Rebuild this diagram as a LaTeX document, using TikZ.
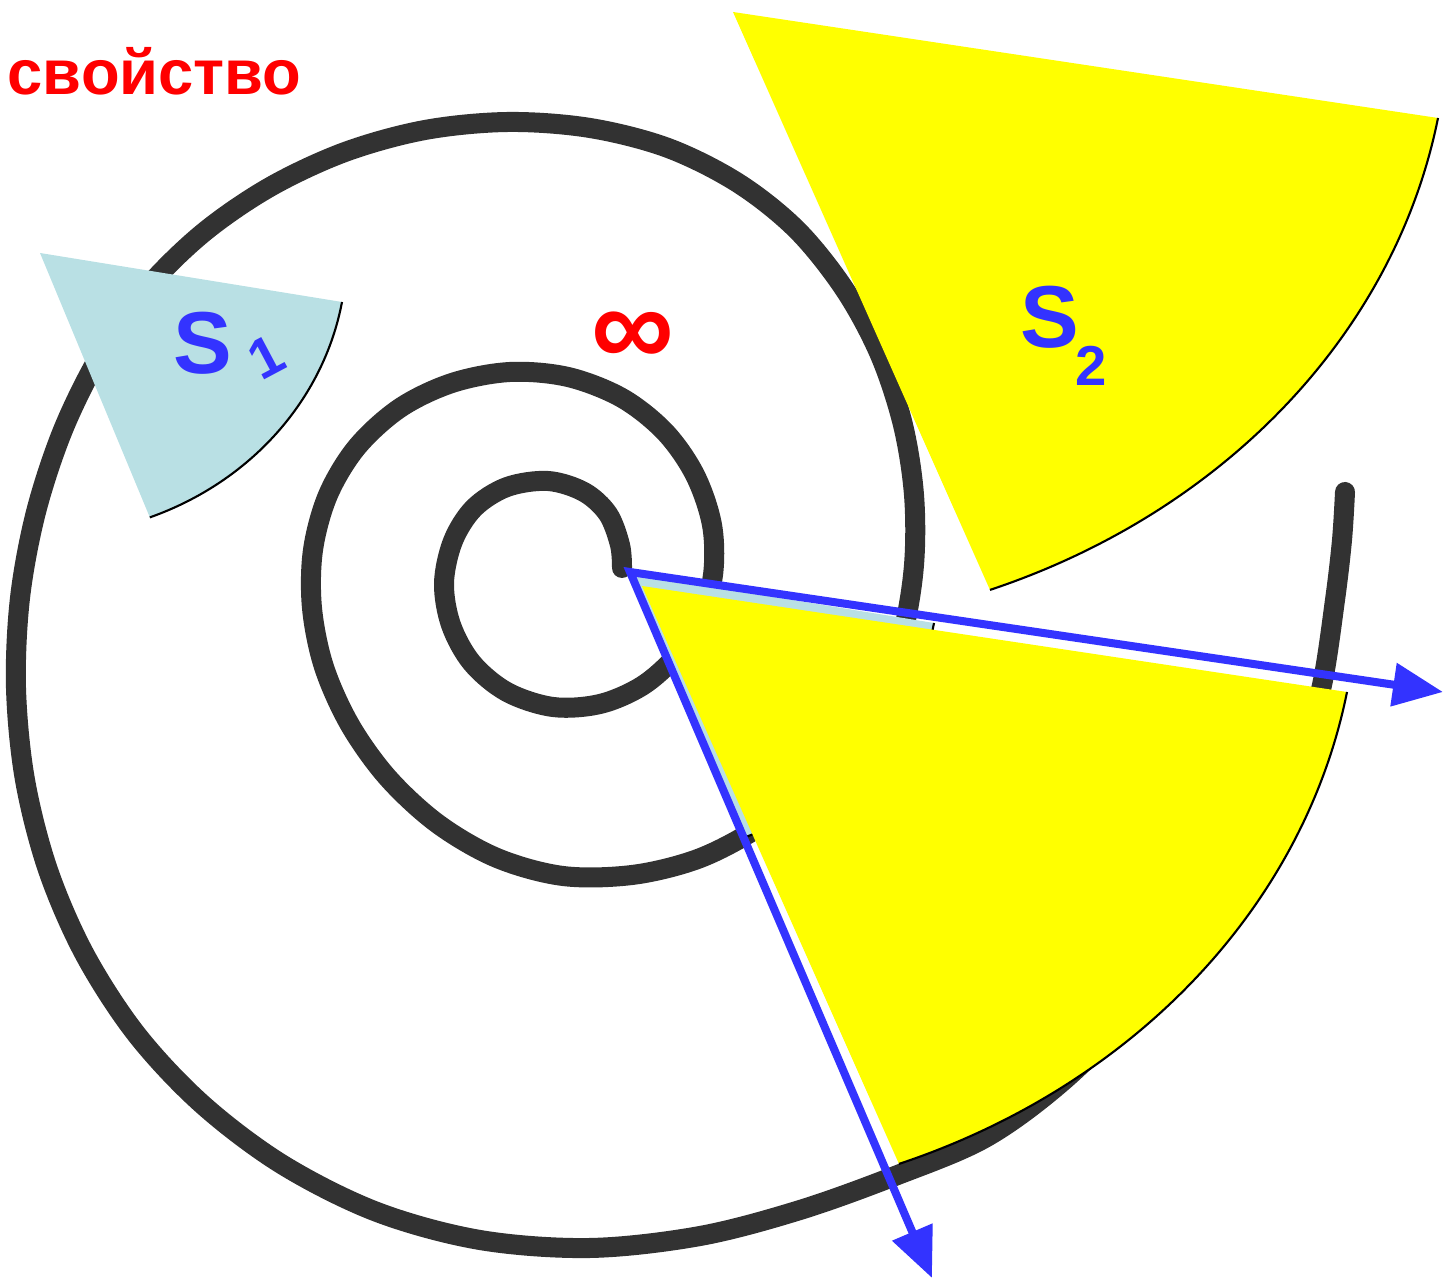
\documentclass[tikz,border=0pt]{standalone}
\usepackage{fontspec}
\setmainfont{Liberation Sans}
\usetikzlibrary{arrows.meta}
\definecolor{rayblue}{RGB}{51,51,255}
\definecolor{paleblue}{RGB}{185,224,228}
\definecolor{pieyellow}{RGB}{255,255,0}
\definecolor{coilgray}{RGB}{50,50,50}

\begin{document}
\begin{tikzpicture}[x=0.01cm,y=-0.01cm,
  ray/.style={line width=0.08cm,rayblue,line join=miter,
    {Triangle[length=0.5cm,width=0.42cm]}-{Triangle[length=0.5cm,width=0.42cm]}},
  rim/.style={line width=0.6pt,black},
  lbl/.style={text=rayblue,font=\bfseries\fontsize{25}{25}\selectfont,inner sep=0pt,anchor=base west}]
  \useasboundingbox (0,0) rectangle (1445,1280);
  % the spiral
  \draw[coilgray,line width=0.2cm,line cap=round,line join=round]
    plot[smooth,tension=0.55] coordinates {
      (622,568) (620,545) (608,514) (584,492) (548,481) (507,487) (474,508) (453,541)
      (444,583) (451,625) (472,663) (507,692) (553,707) (600,704) (642,686) (675,657)
      (700,620) (713,575) (712,525) (695,475) (665,432) (622,398) (568,377) (510,372)
      (452,383) (400,408) (357,447) (328,495) (313,550) (312,608) (324,667) (350,725)
      (388,778) (438,824) (497,858) (563,876) (632,875) (695,860) (748,834) (800,797)
      (845,750) (880,695) (903,632) (914,565) (914,495) (903,425) (880,355) (845,290)
      (797,230) (738,183) (668,148) (590,128) (508,122) (425,130) (345,152) (270,187)
      (203,233) (145,290) (100,355) (63,430) (36,512) (20,598) (16,688) (25,780)
      (48,870) (85,955) (137,1035) (203,1105) (283,1165) (377,1212) (480,1240) (590,1248)
      (700,1236) (800,1210) (895,1176) (985,1138) (1062,1082) (1140,1005) (1210,925) (1265,840)
      (1300,760) (1322,685) (1335,600) (1342,540) (1345,492)};
  % sectors
  \fill[paleblue] (40,253) -- (342,302) arc[start angle=9.9,end angle=69,x radius=306.6,y radius=282.8] -- cycle;
  \draw[rim] (342,302) arc[start angle=9.9,end angle=69,x radius=306.6,y radius=282.8];
  \fill[paleblue] (632,574) -- (934,623) arc[start angle=9.9,end angle=69,x radius=306.6,y radius=282.8] -- cycle;
  \draw[rim] (934,623) arc[start angle=9.9,end angle=69,x radius=306.6,y radius=282.8];
  \fill[pieyellow] (642,586) -- (1347,692) arc[start angle=9.86,end angle=68.95,x radius=715.6,y radius=619.3] -- cycle;
  \draw[rim] (1347,692) arc[start angle=9.86,end angle=68.95,x radius=715.6,y radius=619.3];
  \fill[pieyellow] (733,12) -- (1438,118) arc[start angle=9.86,end angle=68.95,x radius=715.6,y radius=619.3] -- cycle;
  \draw[rim] (1438,118) arc[start angle=9.86,end angle=68.95,x radius=715.6,y radius=619.3];
  % rays
  \coordinate (apex) at (630,572);
  \coordinate (tipA) at (1443,692);
  \coordinate (tipB) at (932,1278);
  \draw[ray] (tipA) -- (apex) -- (tipB);
  % labels
  \node[text=red,font=\bfseries\fontsize{18}{18}\selectfont,inner sep=0pt,anchor=base west] (prop) at (7,95) {свойство};
  \node[text=red,font=\bfseries\fontsize{33}{33}\selectfont,inner sep=0pt] (inf) at (633,339) {∞};
  \node[lbl] (s1) at (173,374) {S\hspace{3pt}\raisebox{-0.08cm}{\fontsize{16}{16}\selectfont\rotatebox{28}{1}}};
  \node[lbl] (s2) at (1020,348) {S\hspace{-1pt}\raisebox{-0.37cm}{\fontsize{16}{16}\selectfont 2}};
\end{tikzpicture}
\end{document}
